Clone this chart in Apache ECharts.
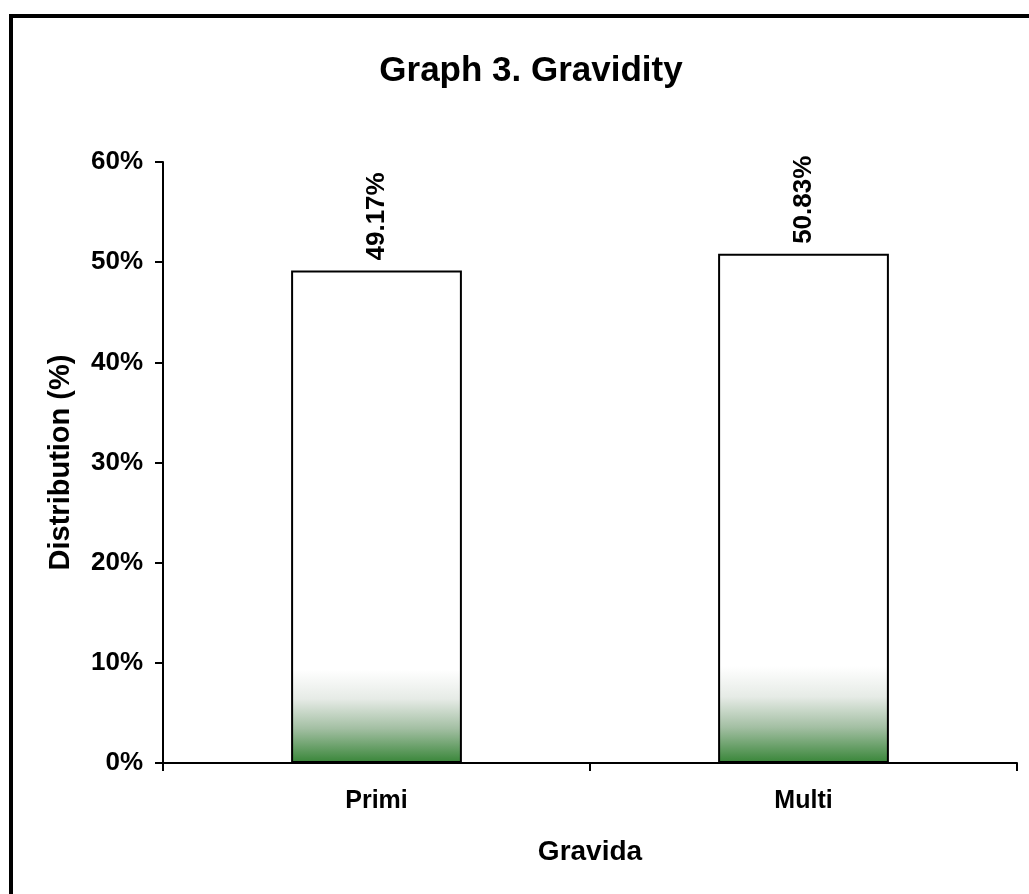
<!DOCTYPE html>
<html>
<head>
<meta charset="utf-8">
<script src="https://cdn.jsdelivr.net/npm/echarts@6/dist/echarts.min.js"></script>
<style>
html,body{margin:0;padding:0;background:#fff;overflow:hidden;}
#main{width:1029px;height:894px;}
</style>
</head>
<body>
<div id="main"></div>
<script>
const categories = ['Primi', 'Multi'];
const values = [49.17, 50.83];
const yTicks = [0, 10, 20, 30, 40, 50, 60];

const FONT = '"Liberation Sans", Arial, sans-serif';
const chart = echarts.init(document.getElementById('main'));

const barGradient = {
  type: 'linear', x: 0, y: 0, x2: 0, y2: 1,
  colorStops: [
    { offset: 0, color: '#ffffff' },
    { offset: 0.81, color: '#ffffff' },
    { offset: 0.87, color: '#e6ebe6' },
    { offset: 0.93, color: '#a3bfa3' },
    { offset: 1, color: '#378537' }
  ]
};

chart.setOption({
  animation: false,
  backgroundColor: '#ffffff',
  title: {
    text: 'Graph 3. Gravidity',
    left: 526, top: 49, textAlign: 'center',
    textStyle: { fontFamily: FONT, fontWeight: 'bold', fontSize: 35, color: '#000' }
  },
  graphic: [{
    type: 'rect',
    shape: { x: 11, y: 16, width: 1100, height: 1000 },
    style: { fill: 'none', stroke: '#000', lineWidth: 4 },
    silent: true
  }],
  grid: { left: 163, top: 162, right: 12, bottom: 131, containLabel: false },
  xAxis: {
    type: 'category',
    data: categories,
    name: 'Gravida',
    nameLocation: 'middle',
    nameGap: 75,
    nameTextStyle: { fontFamily: FONT, fontWeight: 'bold', fontSize: 28, color: '#000' },
    axisLine: { lineStyle: { color: '#000', width: 2 } },
    axisTick: { show: true, length: 8, lineStyle: { color: '#000', width: 2 } },
    axisLabel: { fontFamily: FONT, fontWeight: 'bold', fontSize: 25, color: '#000', margin: 26 }
  },
  yAxis: {
    type: 'value',
    min: yTicks[0], max: yTicks[yTicks.length - 1], interval: 10,
    name: 'Distribution (%)',
    nameLocation: 'middle',
    nameGap: 88,
    nameTextStyle: { fontFamily: FONT, fontWeight: 'bold', fontSize: 29, color: '#000' },
    axisLine: { show: true, lineStyle: { color: '#000', width: 2 } },
    axisTick: { show: true, length: 8, lineStyle: { color: '#000', width: 2 } },
    splitLine: { show: false },
    axisLabel: {
      fontFamily: FONT, fontWeight: 'bold', fontSize: 26, color: '#000', margin: 20,
      formatter: v => v + '%'
    }
  },
  series: [{
    type: 'bar',
    data: values,
    barCategoryGap: '60%',
    itemStyle: { color: barGradient, borderColor: '#000', borderWidth: 2 },
    label: {
      show: true, position: 'top', rotate: 90, align: 'left', verticalAlign: 'middle',
      distance: 10,
      fontFamily: FONT, fontWeight: 'bold', fontSize: 26, color: '#000',
      formatter: p => p.value.toFixed(2) + '%'
    }
  }]
});
</script>
</body>
</html>
